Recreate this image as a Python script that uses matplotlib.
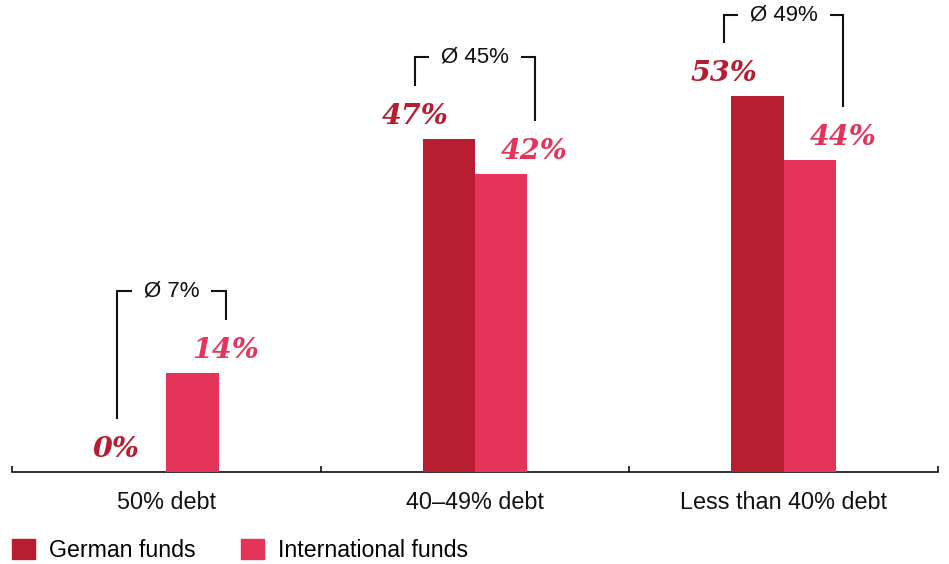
import matplotlib.pyplot as plt
from matplotlib.patches import Patch

plt.rcParams['font.family'] = ['Liberation Sans', 'DejaVu Sans']

categories = ['50% debt', '40\u201349% debt', 'Less than 40% debt']
german = [0, 47, 53]
international = [14, 42, 44]
averages = [7, 45, 49]

c_german = '#b81c30'
c_intl = '#e5345a'
ink = '#111111'
bar_w = 0.17

fig = plt.figure(figsize=(9.49, 5.64), dpi=100)
ax = fig.add_axes([12 / 949, 92 / 564, 926 / 949, 472 / 564])
ax.set_xlim(-0.5, 2.5)
ax.set_ylim(0, 66.6)

x = range(len(categories))
ax.bar([i - bar_w / 2 for i in x], german, bar_w, color=c_german, zorder=3)
ax.bar([i + bar_w / 2 for i in x], international, bar_w, color=c_intl, zorder=3)

# value labels, pushed outward from the pair
lab_font = dict(family='DejaVu Serif', fontsize=20.5, fontweight='bold', fontstyle='italic')
g_txt, i_txt = [], []
for i in x:
    g_txt.append(ax.text(i - bar_w / 2, german[i] + 3.2, f'{german[i]}%',
                         ha='right', va='center', color=c_german, **lab_font))
    i_txt.append(ax.text(i + bar_w / 2, international[i] + 3.2, f'{international[i]}%',
                         ha='left', va='center', color=c_intl, **lab_font))

# average brackets, legs sit over the label centres
fig.canvas.draw()
inv = ax.transData.inverted()
gap = 12 / 309  # pixels -> data units along x
for i in x:
    bl = g_txt[i].get_window_extent()
    br = i_txt[i].get_window_extent()
    xl = inv.transform(((bl.x0 + bl.x1) / 2, 0))[0]
    xr = inv.transform(((br.x0 + br.x1) / 2, 0))[0]
    top = max(german[i], international[i]) + 11.5
    avg = ax.text((xl + xr) / 2, top, f'\u00d8 {averages[i]}%', ha='center', va='center',
                  fontsize=16, color=ink)
    ab = avg.get_window_extent()
    t0 = inv.transform((ab.x0, 0))[0] - gap
    t1 = inv.transform((ab.x1, 0))[0] + gap
    ax.plot([xl, xl, t0], [german[i] + 7.5, top, top], color=ink, lw=1.5,
            solid_joinstyle='miter', solid_capstyle='butt')
    ax.plot([t1, xr, xr], [top, top, international[i] + 7.5], color=ink, lw=1.5,
            solid_joinstyle='miter', solid_capstyle='butt')

for s in ['left', 'right', 'top']:
    ax.spines[s].set_visible(False)
ax.spines['bottom'].set_linewidth(1.2)
ax.spines['bottom'].set_color(ink)
ax.set_yticks([])
ax.set_xticks([-0.5, 0.5, 1.5, 2.5])
ax.set_xticklabels([])
ax.tick_params(axis='x', which='major', direction='in', length=4.5, width=1.2, color=ink)
ax.set_xticks(list(x), minor=True)
ax.set_xticklabels(categories, minor=True, fontsize=16.8, color=ink)
ax.tick_params(axis='x', which='minor', length=0, pad=14)

handles = [Patch(color=c_german), Patch(color=c_intl)]
fig.legend(handles, ['German funds', 'International funds'], loc='lower left',
           bbox_to_anchor=(12 / 949, 2 / 564), ncol=2, frameon=False, fontsize=16.7,
           handlelength=1.0, handleheight=1.0, handletextpad=0.6, columnspacing=1.95,
           borderpad=0, borderaxespad=0)

fig.savefig('out.png', dpi=100)
